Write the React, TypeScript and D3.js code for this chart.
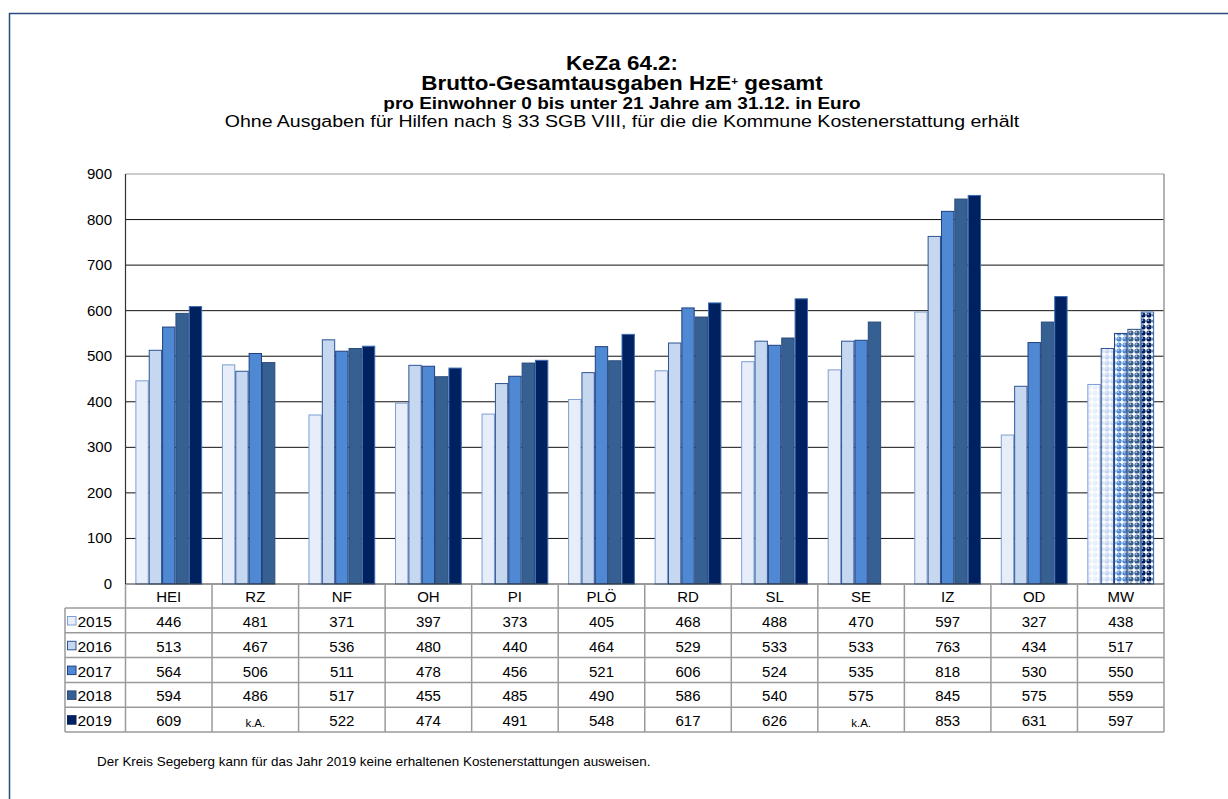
import React from "react";
import * as d3 from "d3";

const categories = ["HEI", "RZ", "NF", "OH", "PI", "PLÖ", "RD", "SL", "SE", "IZ", "OD", "MW"];
const years = ["2015", "2016", "2017", "2018", "2019"];
const v2015 = [446, 481, 371, 397, 373, 405, 468, 488, 470, 597, 327, 438];
const v2016 = [513, 467, 536, 480, 440, 464, 529, 533, 533, 763, 434, 517];
const v2017 = [564, 506, 511, 478, 456, 521, 606, 524, 535, 818, 530, 550];
const v2018 = [594, 486, 517, 455, 485, 490, 586, 540, 575, 845, 575, 559];
const v2019: (number | null)[] = [609, null, 522, 474, 491, 548, 617, 626, null, 853, 631, 597];
const series = [v2015, v2016, v2017, v2018, v2019];
const yTicks = [0, 100, 200, 300, 400, 500, 600, 700, 800, 900];

const fills = ["#e7eef9", "#c6d8f0", "#5089d3", "#376092", "#00215f"];
const strokes = ["#7d9fd3", "#2e5494", "#1f3f7f", "#2a4c7a", "#3c6cb4"];
const keyStrokes = ["#7d9fd3", "#2e5494", "#1f3f7f", "#2a4c7a", "#00215f"];

const W = 1228;
const H = 799;
const plotL = 125.5;
const plotR = 1164;
const plotT = 174;
const plotB = 584;
const tableL = 65;
const rowH = 24.8;
const labelRowB = 608;
const cx0 = 622;
const sx = 1.15;

export default function App() {
  const x = d3.scaleBand<string>().domain(categories).range([plotL, plotR]).paddingInner(0).paddingOuter(0);
  const inner = d3.scaleBand<string>().domain(years).range([0, x.bandwidth()]).paddingOuter(0.74).paddingInner(0);
  const y = d3.scaleLinear().domain([0, 900]).range([plotB, plotT]);
  const font = "'Liberation Sans', Arial, sans-serif";
  const rows = years.map((_, i) => labelRowB + i * rowH);
  const tableB = labelRowB + 5 * rowH;

  return (
    <svg width={W} height={H} style={{ position: "absolute", left: 0, top: 0, background: "#fff" }} fontFamily={font}>
      <defs>
        {years.map((yr, i) => (
          <pattern key={yr} id={`pat${i}`} width={6} height={6} patternUnits="userSpaceOnUse">
            <rect width={6} height={6} fill="#ffffff" />
            <circle cx={3} cy={3} r={2.6} fill={fills[i]} />
            <circle cx={2.3} cy={2.2} r={0.9} fill="#ffffff" opacity={0.6} />
          </pattern>
        ))}
      </defs>
      {/* outer frame */}
      <rect x={9.5} y={13.5} width={1400} height={1000} fill="none" stroke="#2b4a80" strokeWidth={1.5} />

      {/* titles */}
      <text transform={`translate(${cx0},70) scale(${sx},1)`} textAnchor="middle" fontSize={19.5} fontWeight="bold">KeZa 64.2:</text>
      <text transform={`translate(${cx0},90) scale(${sx},1)`} textAnchor="middle" fontSize={19.5} fontWeight="bold">
        Brutto-Gesamtausgaben HzE<tspan fontSize={10} dy={-5}>+</tspan><tspan dy={5}> gesamt</tspan>
      </text>
      <text transform={`translate(${cx0},108.5) scale(${sx},1)`} textAnchor="middle" fontSize={16.5} fontWeight="bold">pro Einwohner 0 bis unter 21 Jahre am 31.12. in Euro</text>
      <text transform={`translate(${cx0},126.5) scale(${sx},1)`} textAnchor="middle" fontSize={17}>Ohne Ausgaben für Hilfen nach § 33 SGB VIII, für die die Kommune Kostenerstattung erhält</text>

      {/* gridlines */}
      {yTicks.map((t) => (
        <g key={t}>
          {t > 0 && t < 900 && <line x1={plotL} x2={plotR} y1={y(t)} y2={y(t)} stroke="#111" strokeWidth={1} />}
          <text x={112} y={y(t) + 5} textAnchor="end" fontSize={15}>{t}</text>
        </g>
      ))}
      <line x1={plotL} x2={plotR} y1={plotT} y2={plotT} stroke="#999" strokeWidth={1.2} />
      <line x1={plotR} x2={plotR} y1={plotT} y2={plotB} stroke="#999" strokeWidth={1.5} />

      {/* bars */}
      {categories.map((c, ci) => (
        <g key={c}>
          {series.map((s, si) => {
            const v = s[ci];
            if (v == null) return null;
            const bx = (x(c) as number) + (inner(years[si]) as number);
            const isMW = c === "MW";
            return (
              <rect
                key={si}
                x={bx + 0.5}
                y={y(v)}
                width={inner.bandwidth() - 1}
                height={plotB - y(v)}
                fill={isMW ? `url(#pat${si})` : fills[si]}
                stroke={strokes[si]}
                strokeWidth={1}
              />
            );
          })}
        </g>
      ))}
      <line x1={plotL} x2={plotL} y1={plotT} y2={plotB} stroke="#333" strokeWidth={1.2} />
      <line x1={plotL} x2={plotR} y1={plotB} y2={plotB} stroke="#333" strokeWidth={1.2} />

      {/* table */}
      <g stroke="#9a9a9a" strokeWidth={1.5}>
        {categories.map((c) => (
          <line key={c} x1={(x(c) as number) + x.bandwidth()} x2={(x(c) as number) + x.bandwidth()} y1={plotB} y2={tableB} />
        ))}
        <line x1={plotL} x2={plotL} y1={plotB} y2={tableB} />
        <line x1={tableL} x2={tableL} y1={labelRowB} y2={tableB} />
        {rows.map((ry, i) => (
          <line key={i} x1={tableL} x2={plotR} y1={ry} y2={ry} />
        ))}
        <line x1={tableL} x2={plotR} y1={tableB} y2={tableB} />
      </g>
      {categories.map((c) => (
        <text key={c} x={(x(c) as number) + x.bandwidth() / 2} y={plotB + 18} textAnchor="middle" fontSize={15}>{c}</text>
      ))}
      {years.map((yr, si) => (
        <g key={yr}>
          <rect x={67.5} y={rows[si] + 8.5} width={8.5} height={8.5} fill={fills[si]} stroke={keyStrokes[si]} strokeWidth={1} />
          <text x={77.5} y={rows[si] + 19} fontSize={15.5}>{yr}</text>
          {categories.map((c, ci) => {
            const v = series[si][ci];
            const cx = (x(c) as number) + x.bandwidth() / 2;
            return v == null ? (
              <text key={c} x={cx} y={rows[si] + 20} textAnchor="middle" fontSize={11.5}>k.A.</text>
            ) : (
              <text key={c} x={cx} y={rows[si] + 19} textAnchor="middle" fontSize={15}>{v}</text>
            );
          })}
        </g>
      ))}

      <text transform={`translate(97,766) scale(1.12,1)`} fontSize={12}>Der Kreis Segeberg kann für das Jahr 2019 keine erhaltenen Kostenerstattungen ausweisen.</text>
    </svg>
  );
}
